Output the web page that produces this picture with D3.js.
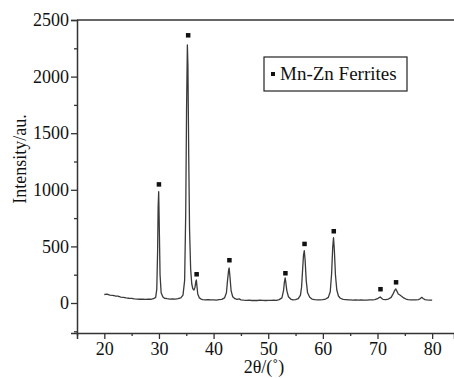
<!DOCTYPE html>
<html>
<head>
<meta charset="utf-8">
<script src="https://cdn.jsdelivr.net/npm/d3@7"></script>
<style>
  body { margin: 0; background: #fff; }
  text { font-family: 'Liberation Serif', 'Times New Roman', 'DejaVu Serif', serif !important; fill: #111; }
</style>
</head>
<body>
<div id="chart"></div>
<script>
// XRD pattern
const twoTheta = [20, 20.5, 21, 21.5, 22, 22.5, 23, 23.5, 24, 24.5, 25, 25.5, 26, 26.5, 27, 27.5, 28, 28.5, 29, 29.4, 29.6, 29.75, 29.85, 29.95, 30.05, 30.2, 30.4, 30.7, 31, 31.5, 32, 32.5, 33, 33.5, 34, 34.4, 34.7, 34.9, 35.05, 35.2, 35.3, 35.45, 35.6, 35.8, 36.0, 36.2, 36.4, 36.6, 36.75, 36.85, 36.95, 37.1, 37.4, 37.7, 38, 38.5, 39, 39.5, 40, 40.5, 41, 41.5, 42, 42.35, 42.55, 42.75, 42.85, 43.0, 43.2, 43.5, 43.9, 44.3, 44.7, 45, 45.5, 46, 46.5, 47, 47.5, 48, 48.5, 49, 49.5, 50, 50.5, 51, 51.5, 52, 52.5, 52.8, 52.95, 53.1, 53.2, 53.4, 53.7, 54.1, 54.5, 55, 55.5, 55.9, 56.1, 56.3, 56.45, 56.6, 56.75, 56.95, 57.2, 57.6, 58, 58.5, 59, 59.5, 60, 60.5, 61, 61.35, 61.6, 61.8, 61.95, 62.1, 62.3, 62.55, 62.85, 63.2, 63.7, 64.2, 64.7, 65, 65.5, 66, 66.5, 67, 67.5, 68, 68.5, 69, 69.5, 70, 70.3, 70.5, 70.7, 71, 71.5, 72, 72.5, 72.9, 73.15, 73.35, 73.55, 73.8, 74.1, 74.4, 74.8, 75.2, 75.6, 76, 76.5, 77, 77.5, 77.8, 78.1, 78.4, 78.7, 79, 79.5, 80];
const intensity = [75, 78, 70, 68, 62, 60, 52, 50, 45, 42, 40, 36, 35, 33, 35, 32, 34, 33, 38, 50, 120, 450, 850, 983, 700, 250, 90, 55, 42, 38, 35, 36, 35, 38, 45, 70, 200, 800, 1700, 2280, 2100, 1300, 650, 300, 170, 125, 115, 140, 190, 203, 150, 80, 45, 35, 30, 28, 30, 27, 28, 26, 30, 32, 45, 90, 200, 290, 309, 230, 110, 55, 38, 32, 36, 28, 25, 24, 26, 22, 24, 22, 25, 23, 22, 24, 23, 25, 24, 30, 45, 110, 180, 221, 190, 110, 55, 35, 28, 30, 38, 70, 140, 300, 420, 462, 380, 200, 90, 50, 35, 30, 28, 27, 30, 35, 50, 100, 260, 490, 577, 470, 250, 115, 62, 42, 32, 30, 27, 28, 26, 28, 25, 27, 25, 26, 28, 27, 30, 38, 48, 53, 45, 32, 30, 35, 50, 85, 112, 124, 105, 80, 70, 60, 45, 35, 30, 28, 27, 28, 30, 38, 50, 38, 30, 27, 26, 25];

// peak markers (Mn-Zn ferrite)
const markX = [29.95, 35.3, 36.85, 42.85, 53.1, 56.6, 61.95, 70.5, 73.35];
const markY = [1050, 2367, 256, 380, 265, 524, 636, 124, 185];

const xTicks = [20, 30, 40, 50, 60, 70, 80];
const xMinor = [15, 25, 35, 45, 55, 65, 75];
const yTicks = [0, 500, 1000, 1500, 2000, 2500];
const yMinor = [-250, 250, 750, 1250, 1750, 2250];

const width = 454, height = 378;
const mLeft = 77, mTop = 20, mBottom = 333, mRight = 454;
const serif = "'Liberation Serif', 'Times New Roman', 'DejaVu Serif', serif";

const svg = d3.select("#chart").append("svg")
  .attr("width", width)
  .attr("height", height)
  .attr("font-family", serif);

const x = d3.scaleLinear().domain([15, 84]).range([mLeft, mRight]);
const y = d3.scaleLinear().domain([-265, 2500]).range([mBottom, mTop]);

// frame: top line
svg.append("line")
  .attr("x1", mLeft).attr("x2", mRight)
  .attr("y1", mTop).attr("y2", mTop)
  .attr("stroke", "#333").attr("stroke-width", 1.3);

svg.append("g")
  .attr("transform", `translate(0,${mBottom})`)
  .call(d3.axisBottom(x).tickValues(xTicks).tickSize(6).tickPadding(3).tickFormat(d3.format("d")));
svg.append("g")
  .attr("transform", `translate(0,${mBottom})`)
  .call(d3.axisBottom(x).tickValues(xMinor).tickSize(3).tickFormat(""))
  .select(".domain").remove();

svg.append("g")
  .attr("transform", `translate(${mLeft},0)`)
  .call(d3.axisLeft(y).tickValues(yTicks).tickSize(6).tickPadding(2).tickFormat(d3.format("d")));
svg.append("g")
  .attr("transform", `translate(${mLeft},0)`)
  .call(d3.axisLeft(y).tickValues(yMinor).tickSize(3).tickFormat(""))
  .select(".domain").remove();

svg.selectAll("g").attr("font-family", serif);
svg.selectAll(".domain").attr("stroke", "#333").attr("stroke-width", 1.5);
svg.selectAll(".tick line").attr("stroke", "#333").attr("stroke-width", 1.3);
svg.selectAll(".tick text")
  .attr("font-family", serif)
  .attr("font-size", 18)
  .attr("fill", "#111");

// pattern
const pts = twoTheta.map((t, i) => [t, intensity[i]]);
svg.append("path")
  .datum(pts)
  .attr("fill", "none")
  .attr("stroke", "#3a3a3a")
  .attr("stroke-width", 1.3)
  .attr("stroke-linejoin", "round")
  .attr("d", d3.line().x(d => x(d[0])).y(d => y(d[1])));

svg.selectAll(".mark")
  .data(markX.map((t, i) => [t, markY[i]]))
  .enter().append("rect")
  .attr("class", "mark")
  .attr("x", d => x(d[0]) - 2)
  .attr("y", d => y(d[1]) - 2)
  .attr("width", 4.5)
  .attr("height", 4.5)
  .attr("fill", "#111");

// legend
const lg = svg.append("g").attr("transform", "translate(264,57)");
lg.append("rect")
  .attr("width", 143).attr("height", 34)
  .attr("fill", "#fff").attr("stroke", "#222").attr("stroke-width", 1.2);
lg.append("rect")
  .attr("x", 7).attr("y", 15).attr("width", 4).attr("height", 4)
  .attr("fill", "#111");
lg.append("text")
  .attr("x", 16).attr("y", 23)
  .attr("font-size", 19)
  .text("Mn-Zn Ferrites");

// axis titles
svg.append("text")
  .attr("transform", "translate(26,159) rotate(-90)")
  .attr("text-anchor", "middle")
  .attr("font-size", 18)
  .text("Intensity/au.");

svg.append("text")
  .attr("x", 264).attr("y", 373)
  .attr("text-anchor", "middle")
  .attr("font-size", 18)
  .text("2θ/(˚)");
</script>
</body>
</html>
